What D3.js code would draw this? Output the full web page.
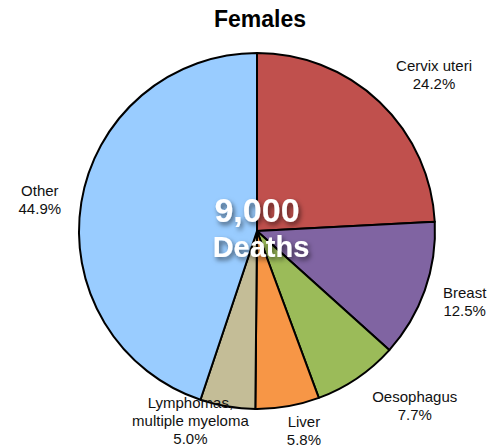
<!DOCTYPE html>
<html>
<head>
<meta charset="utf-8">
<script src="https://cdn.jsdelivr.net/npm/d3@7"></script>
<style>
  body { margin: 0; background: #fff; }
  svg { display: block; font-family: "Liberation Sans", Arial, Helvetica, sans-serif; }
</style>
</head>
<body>
<div id="chart"></div>
<script>
// Chart data
const categories = ["Cervix uteri", "Breast", "Oesophagus", "Liver", "Lymphomas,\nmultiple myeloma", "Other"];
const shares = [24.2, 12.5, 7.7, 5.8, 5.0, 44.9];
const colors = ["#C0504D", "#8064A2", "#9BBB59", "#F79646", "#C4BD97", "#99CCFF"];
const title = "Females";
const centerLines = ["9,000", "Deaths"];

// label nudges (px) for the hand placed labels
const labelNudge = [[29, 0], [5, -1], [37, -3], [10, -12], [-31, -22], [-5, 3]];

const width = 499, height = 448;
const cx = 257, cy = 231, radius = 178;

const svg = d3.select('#chart')
  .append('svg')
  .attr('width', width)
  .attr('height', height);

const defs = svg.append('defs');
const shadow = defs.append('filter')
  .attr('id', 'shadow')
  .attr('x', '-20%').attr('y', '-20%')
  .attr('width', '140%').attr('height', '160%');
shadow.append('feDropShadow')
  .attr('dx', 2).attr('dy', 3)
  .attr('stdDeviation', 2.5)
  .attr('flood-color', '#000')
  .attr('flood-opacity', 0.55);

// title
svg.append('text')
  .attr('x', 260)
  .attr('y', 27)
  .attr('text-anchor', 'middle')
  .style('font-size', '23px')
  .style('font-weight', 'bold')
  .text(title);

const data = categories.map((c, i) => ({ name: c, value: shares[i], color: colors[i], nudge: labelNudge[i] }));

const pie = d3.pie().sort(null).value(d => d.value);
const arcs = pie(data);

const arc = d3.arc().innerRadius(0).outerRadius(radius);

const g = svg.append('g').attr('transform', `translate(${cx},${cy})`);

g.selectAll('path')
  .data(arcs)
  .enter().append('path')
  .attr('d', arc)
  .attr('fill', d => d.data.color)
  .attr('stroke', '#000')
  .attr('stroke-width', 2)
  .attr('stroke-linejoin', 'round');

// outside labels
const labelR = 215;
const lineH = 18;
arcs.forEach(d => {
  const mid = (d.startAngle + d.endAngle) / 2;
  const x = labelR * Math.sin(mid) + d.data.nudge[0];
  const y = -labelR * Math.cos(mid) + d.data.nudge[1];
  const lines = d.data.name.split('\n').concat([d.data.value.toFixed(1) + '%']);
  const t = g.append('text')
    .attr('text-anchor', 'middle')
    .style('font-size', '15px')
    .style('fill', '#111');
  lines.forEach((l, i) => {
    t.append('tspan')
      .attr('x', x)
      .attr('y', y + (i - (lines.length - 1) / 2) * lineH)
      .attr('dy', '0.35em')
      .text(l);
  });
});

// centre text
g.append('text')
  .attr('x', 0)
  .attr('y', -9)
  .attr('text-anchor', 'middle')
  .attr('filter', 'url(#shadow)')
  .style('font-size', '34px')
  .style('font-weight', 'bold')
  .style('fill', '#fff')
  .text(centerLines[0]);

g.append('text')
  .attr('x', 4)
  .attr('y', 26)
  .attr('text-anchor', 'middle')
  .attr('filter', 'url(#shadow)')
  .style('font-size', '29px')
  .style('font-weight', 'bold')
  .style('fill', '#fff')
  .text(centerLines[1]);
</script>
</body>
</html>
